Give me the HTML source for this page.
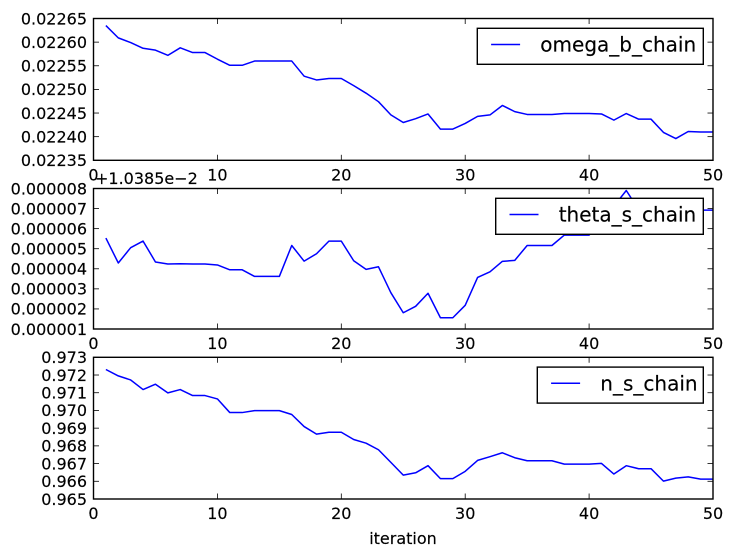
<!DOCTYPE html>
<html>
<head>
<meta charset="utf-8">
<title>Chain traces</title>
<style>
html,body{margin:0;padding:0;background:#fff;width:732px;height:557px;overflow:hidden}
svg{display:block}
text{font-family:"DejaVu Sans","Liberation Sans",sans-serif;fill:#000;stroke:#000;stroke-width:0.15px}
</style>
</head>
<body>
<svg id="chart" xmlns="http://www.w3.org/2000/svg" width="732" height="557" viewBox="0 0 732 557"></svg>
<script>
const iterations = [1,2,3,4,5,6,7,8,9,10,11,12,13,14,15,16,17,18,19,20,21,22,23,24,25,26,27,28,29,30,31,32,33,34,35,36,37,38,39,40,41,42,43,44,45,46,47,48,49,50];
const omegaBValues = [0.022635,0.022609,0.022599,0.022587,0.022583,0.022572,0.022588,0.022578,0.022578,0.022564,0.022551,0.022551,0.02256,0.02256,0.02256,0.02256,0.022528,0.02252,0.022523,0.022523,0.022508,0.022492,0.022474,0.022446,0.02243,0.022438,0.022448,0.022416,0.022416,0.022428,0.022443,0.022446,0.022466,0.022453,0.022447,0.022447,0.022447,0.022449,0.022449,0.022449,0.022448,0.022435,0.022449,0.022437,0.022437,0.022409,0.022396,0.022411,0.02241,0.02241];
const thetaSValues = [5.53e-6,4.29e-6,5.05e-6,5.38e-6,4.34e-6,4.24e-6,4.25e-6,4.24e-6,4.24e-6,4.19e-6,3.95e-6,3.95e-6,3.62e-6,3.62e-6,3.62e-6,5.16e-6,4.38e-6,4.75e-6,5.38e-6,5.38e-6,4.4e-6,3.97e-6,4.1e-6,2.81e-6,1.81e-6,2.13e-6,2.78e-6,1.56e-6,1.56e-6,2.18e-6,3.57e-6,3.85e-6,4.37e-6,4.42e-6,5.16e-6,5.16e-6,5.16e-6,5.68e-6,5.68e-6,5.68e-6,6.3e-6,7.12e-6,7.9e-6,6.95e-6,6.95e-6,6.95e-6,6.95e-6,6.95e-6,6.92e-6,6.92e-6];
const nSValues = [0.97231,0.97195,0.97172,0.97118,0.97148,0.97099,0.97118,0.97084,0.97084,0.97065,0.96988,0.96988,0.96999,0.96999,0.96999,0.96977,0.96909,0.96866,0.96877,0.96877,0.96836,0.96815,0.96778,0.96707,0.96635,0.96648,0.96688,0.96615,0.96615,0.96656,0.96718,0.96739,0.96761,0.96733,0.96716,0.96716,0.96716,0.96697,0.96697,0.96697,0.96701,0.96641,0.96688,0.96671,0.96671,0.96601,0.96618,0.96625,0.96612,0.96612];
const xTicks = [0,10,20,30,40,50];
const omegaBTicks = [0.02235,0.0224,0.02245,0.0225,0.02255,0.0226,0.02265];
const omegaBTickLabels = ["0.02235","0.02240","0.02245","0.02250","0.02255","0.02260","0.02265"];
const thetaSTicks = [1e-6,2e-6,3e-6,4e-6,5e-6,6e-6,7e-6,8e-6];
const thetaSTickLabels = ["0.000001","0.000002","0.000003","0.000004","0.000005","0.000006","0.000007","0.000008"];
const nSTicks = [0.965,0.966,0.967,0.968,0.969,0.97,0.971,0.972,0.973];
const nSTickLabels = ["0.965","0.966","0.967","0.968","0.969","0.970","0.971","0.972","0.973"];

const svg = document.getElementById('chart');
const NS = 'http://www.w3.org/2000/svg';
const LEFT = 93.5, RIGHT = 713;
function xScale(v){ return LEFT + (v - xTicks[0]) / (xTicks[xTicks.length-1] - xTicks[0]) * (RIGHT - LEFT); }
function mk(tag, attrs, parent){
  const e = document.createElementNS(NS, tag);
  for (const k in attrs) e.setAttribute(k, attrs[k]);
  parent.appendChild(e);
  return e;
}
function tick(g, x1, y1, x2, y2){
  const t = mk('line', {x1:x1, y1:y1, x2:x2, y2:y2, stroke:'#000', 'stroke-width':0.8}, g);
  
  
}
function drawPanel(p){
  const yScale = v => p.bottom - (v - p.ticks[0]) / (p.ticks[p.ticks.length-1] - p.ticks[0]) * (p.bottom - p.top);
  const g = mk('g', {}, svg);
  
  

  const clipId = 'clip-' + p.name;
  const clip = mk('clipPath', {id:clipId}, g);
  mk('rect', {x:LEFT, y:p.top, width:RIGHT-LEFT, height:p.bottom-p.top}, clip);

  const line = mk('polyline', {
    points: iterations.map((it, i) => xScale(it).toFixed(2) + ',' + yScale(p.values[i]).toFixed(2)).join(' '),
    fill:'none', stroke:'#0000ff', 'stroke-width':1.5, 'stroke-linejoin':'round', 'clip-path':'url(#' + clipId + ')'
  }, g);
  
  

  xTicks.forEach(v => {
    const x = xScale(v);
    tick(g, x, p.bottom, x, p.bottom - 5.5);
    tick(g, x, p.top, x, p.top + 5.5);
    const t = mk('text', {x:x, y:p.bottom + 20, 'text-anchor':'middle', 'font-size':16}, g);
    t.textContent = String(v);
    
    
  });
  p.ticks.forEach((v, i) => {
    const y = yScale(v);
    tick(g, LEFT, y, LEFT + 5.5, y);
    tick(g, RIGHT, y, RIGHT - 5.5, y);
    const t = mk('text', {x:87, y:y + 5.8, 'text-anchor':'end', 'font-size':16}, g);
    t.textContent = p.labels[i];
    
    
  });

  const frame = mk('rect', {x:LEFT, y:p.top, width:RIGHT-LEFT, height:p.bottom-p.top, fill:'none', stroke:'#000', 'stroke-width':1.4}, g);
  
  

  const lg = mk('g', {}, g);
  
  
  mk('rect', {x:p.legendLeft, y:p.top + 9.8, width:703.3 - p.legendLeft, height:36, fill:'#fff', stroke:'#000', 'stroke-width':1.4}, lg);
  const handle = mk('line', {x1:p.legendLeft + 13.8, x2:p.legendLeft + 42.8, y1:p.top + 26, y2:p.top + 26, stroke:'#0000ff', 'stroke-width':1.5}, lg);
  
  
  const label = mk('text', {x:p.legendLeft + 63, y:p.top + 33.2, 'font-size':20}, lg);
  label.textContent = p.series;
  
  
}

drawPanel({name:'omega-b', series:'omega_b_chain', values:omegaBValues, ticks:omegaBTicks, labels:omegaBTickLabels, top:18.5, bottom:160.3, legendLeft:477.3});
drawPanel({name:'theta-s', series:'theta_s_chain', values:thetaSValues, ticks:thetaSTicks, labels:thetaSTickLabels, top:188.5, bottom:329, legendLeft:495.7});
drawPanel({name:'n-s', series:'n_s_chain', values:nSValues, ticks:nSTicks, labels:nSTickLabels, top:357.3, bottom:499, legendLeft:537.3});

const offsetText = mk('text', {x:95, y:184, 'font-size':16}, svg);
offsetText.textContent = '+1.0385e\u22122';



const xTitle = mk('text', {x:403, y:544, 'text-anchor':'middle', 'font-size':16}, svg);
xTitle.textContent = 'iteration';


</script>
</body>
</html>
